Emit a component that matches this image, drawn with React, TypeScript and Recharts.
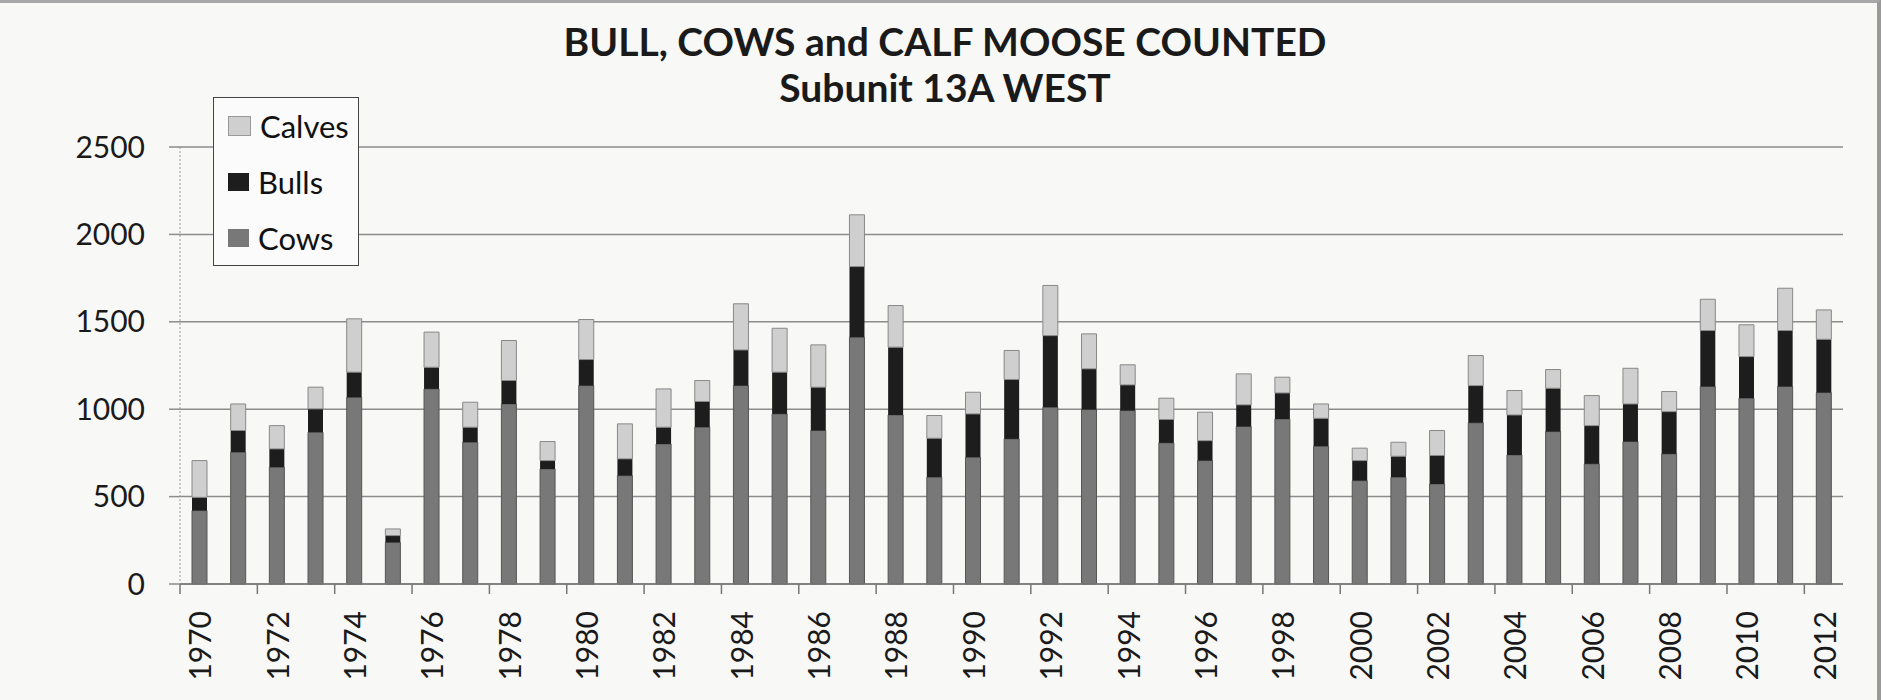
import React from 'react'
import { BarChart, Bar, XAxis, YAxis, CartesianGrid, Legend } from 'recharts'

// Moose counted per year, Subunit 13A West
const years = [
  1970, 1971, 1972, 1973, 1974, 1975, 1976, 1977, 1978, 1979,
  1980, 1981, 1982, 1983, 1984, 1985, 1986, 1987, 1988, 1989,
  1990, 1991, 1992, 1993, 1994, 1995, 1996, 1997, 1998, 1999,
  2000, 2001, 2002, 2003, 2004, 2005, 2006, 2007, 2008, 2009,
  2010, 2011, 2012,
]
const cows = [
  420, 754, 668, 868, 1068, 238, 1116, 811, 1030, 658,
  1135, 620, 801, 897, 1135, 973, 878, 1412, 967, 611,
  725, 830, 1011, 998, 992, 807, 706, 901, 944, 788,
  591, 611, 572, 922, 738, 872, 687, 815, 744, 1130,
  1063, 1130, 1095,
]
const bulls = [
  76, 124, 105, 134, 144, 39, 124, 86, 134, 48,
  149, 96, 96, 147, 204, 239, 248, 404, 388, 223,
  248, 340, 410, 233, 147, 134, 114, 124, 149, 160,
  115, 120, 163, 213, 229, 248, 219, 215, 242, 320,
  238, 320, 305,
]
const calves = [
  210, 152, 133, 124, 305, 38, 201, 143, 229, 109,
  229, 200, 219, 120, 264, 251, 242, 296, 238, 130,
  124, 166, 287, 200, 115, 122, 163, 177, 90, 82,
  71, 80, 143, 172, 140, 107, 172, 204, 115, 179,
  182, 242, 168,
]
const yTicks = [0, 500, 1000, 1500, 2000, 2500]

const data = years.map((year, i) => ({
  year: String(year),
  Cows: cows[i],
  Bulls: bulls[i],
  Calves: calves[i],
}))

const CHART_W = 1881
const CHART_H = 700
const PLOT_LEFT = 180
const PLOT_RIGHT = 1843
const PLOT_TOP = 147
const PLOT_BOTTOM = 584
const BAND = (PLOT_RIGHT - PLOT_LEFT) / years.length

const FONT = 'Lato, "Open Sans", sans-serif'

const colors = { Cows: '#787878', Bulls: '#1d1d1d', Calves: '#cfcfcf' }

const YearTick = (props: any) => {
  const { x, y, payload } = props
  const tx = x - BAND / 2
  const ly = y + 27
  return (
    <g>
      <line x1={tx} y1={y} x2={tx} y2={y + 10} stroke="#777" strokeWidth={1.5} />
      <text
        x={x}
        y={ly}
        transform={`rotate(-90 ${x} ${ly})`}
        textAnchor="end"
        dominantBaseline="central"
        fontFamily={FONT}
        fontSize={30}
        fill="#1a1a1a"
      >
        {payload.value}
      </text>
    </g>
  )
}

const LegendBox = () => {
  const items = ['Calves', 'Bulls', 'Cows'] as const
  return (
    <div
      style={{
        width: 146,
        height: 169,
        border: '1.5px solid #444',
        background: '#fbfbfb',
        boxSizing: 'border-box',
        paddingTop: 0,
        fontFamily: FONT,
      }}
    >
      {items.map((name) => (
        <div key={name} style={{ display: 'flex', alignItems: 'center', height: 56 }}>
          <div
            style={{
              width: 21,
              height: 18,
              marginLeft: 14,
              marginRight: 9,
              background: colors[name],
              border: name === 'Calves' ? '1px solid #999' : 'none',
            }}
          />
          <span style={{ fontSize: 31, color: '#111', lineHeight: 1 }}>{name}</span>
        </div>
      ))}
    </div>
  )
}

export default function App() {
  return (
    <div
      style={{
        position: 'absolute',
        left: 0,
        top: 0,
        width: CHART_W,
        height: CHART_H,
        background: '#f8f8f7',
        borderTop: '3px solid #a8a8a8',
        borderRight: '4px solid #9a9a9a',
        boxSizing: 'border-box',
        overflow: 'hidden',
      }}
    >
      <div
        style={{
          position: 'absolute',
          left: 0,
          width: 1890,
          top: 15,
          textAlign: 'center',
          fontFamily: FONT,
          fontWeight: 700,
          color: '#1a1a1a',
          lineHeight: '46px',
        }}
      >
        <div style={{ fontSize: 39 }}>BULL, COWS and CALF MOOSE COUNTED</div>
        <div style={{ fontSize: 39 }}>Subunit 13A WEST</div>
      </div>
      <div style={{ position: 'absolute', left: 0, top: -3 }}>
        <BarChart
          width={CHART_W}
          height={CHART_H}
          data={data}
          barSize={15}
          margin={{
            top: PLOT_TOP,
            right: CHART_W - PLOT_RIGHT,
            bottom: 0,
            left: 0,
          }}
        >
          <CartesianGrid vertical={false} stroke="#8c8c8c" strokeWidth={1.5} />
          <XAxis
            dataKey="year"
            interval={1}
            tickSize={0}
            tickMargin={0}
            tickLine={false}
            axisLine={{ stroke: '#777', strokeWidth: 1.5 }}
            tick={<YearTick />}
            height={CHART_H - PLOT_BOTTOM}
          />
          <YAxis
            width={PLOT_LEFT}
            domain={[0, 2500]}
            ticks={yTicks}
            tickSize={11}
            tickMargin={24}
            tickLine={{ stroke: '#8c8c8c', strokeWidth: 1.5 }}
            axisLine={{ stroke: '#999', strokeDasharray: '2 2' }}
            tick={{ fontFamily: FONT, fontSize: 30, fill: '#1a1a1a' }}
          />
          <Legend
            layout="vertical"
            align="center"
            verticalAlign="middle"
            content={<LegendBox />}
            wrapperStyle={{ left: 213, top: 97, width: 146, height: 169 }}
          />
          <Bar dataKey="Cows" stackId="a" fill={colors.Cows} stroke="#555" strokeWidth={1} isAnimationActive={false} />
          <Bar dataKey="Bulls" stackId="a" fill={colors.Bulls} isAnimationActive={false} />
          <Bar dataKey="Calves" stackId="a" fill={colors.Calves} stroke="#888" strokeWidth={1} isAnimationActive={false} />
        </BarChart>
      </div>
    </div>
  )
}
